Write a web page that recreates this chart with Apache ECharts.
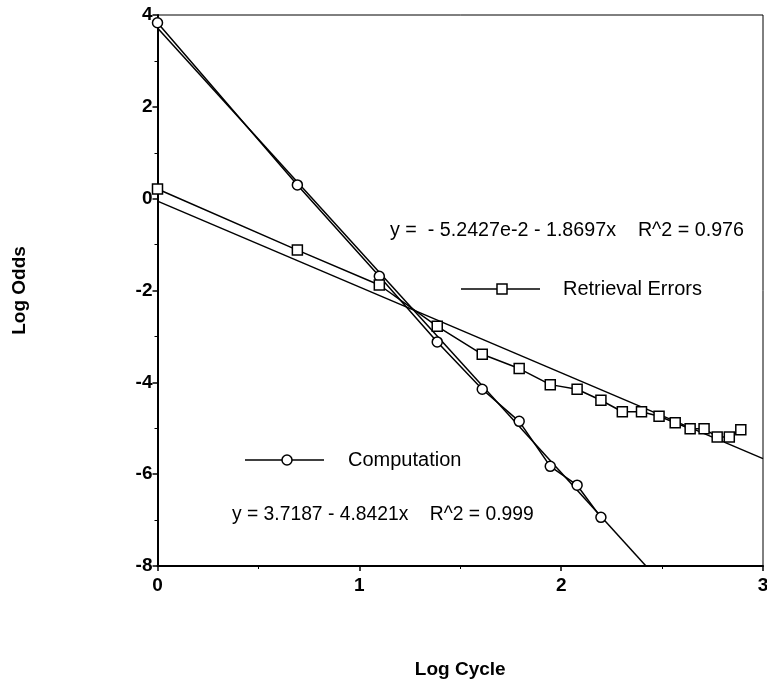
<!DOCTYPE html>
<html>
<head>
<meta charset="utf-8">
<script src="https://cdn.jsdelivr.net/npm/echarts@6/dist/echarts.min.js"></script>
<style>
html,body{margin:0;padding:0;background:#fff;overflow:hidden;}
#c{width:767px;height:682px;}
</style>
</head>
<body>
<div id="c"></div>
<script>
// ---- data ----
var compX = [0, 0.693, 1.099, 1.386, 1.609, 1.792, 1.946, 2.079, 2.197];
var compY = [3.83, 0.30, -1.69, -3.12, -4.15, -4.85, -5.83, -6.24, -6.94];
var retrX = [0, 0.693, 1.099, 1.386, 1.609, 1.792, 1.946, 2.079, 2.197, 2.303, 2.398, 2.485, 2.565, 2.639, 2.708, 2.773, 2.833, 2.890];
var retrY = [0.21, -1.12, -1.88, -2.78, -3.39, -3.70, -4.05, -4.15, -4.39, -4.64, -4.64, -4.74, -4.88, -5.01, -5.01, -5.19, -5.19, -5.03];
var compFit = [3.7187, -4.8421];   // intercept, slope
var retrFit = [-0.052427, -1.8697];
var xTicks = [0, 1, 2, 3];
var yTicks = [-8, -6, -4, -2, 0, 2, 4];
var seriesNames = ['Computation', 'Retrieval Errors'];
var eqTexts = ['y = 3.7187 - 4.8421x    R^2 = 0.999', 'y =  - 5.2427e-2 - 1.8697x    R^2 = 0.976'];

function zip(xs, ys){ return xs.map(function(x,i){return [x, ys[i]];}); }
var yMin = yTicks[0], yMax = yTicks[yTicks.length-1];
var xMin = xTicks[0], xMax = xTicks[xTicks.length-1];
function fitLine(c){
  var x0 = xMin, y0 = c[0] + c[1]*x0;
  var x1 = xMax, y1 = c[0] + c[1]*x1;
  if (y1 < yMin) { x1 = (yMin - c[0]) / c[1]; y1 = yMin; }
  return [[x0, y0], [x1, y1]];
}

var FONT = 'Liberation Sans, Arial, Helvetica, sans-serif';
var chart = echarts.init(document.getElementById('c'), null, {renderer:'canvas'});
var lineStyle = {color:'#000', width:1.5};
chart.setOption({
  animation:false,
  backgroundColor:'#fff',
  grid:{left:157.5, right:4, top:15, bottom:116, show:true, borderColor:'#000', borderWidth:1,
        backgroundColor:'transparent', containLabel:false, outerBoundsMode:'none'},
  xAxis:{
    type:'value', min:xMin, max:xMax, interval:1,
    name:'Log Cycle', nameLocation:'middle', nameGap:94,
    nameTextStyle:{fontFamily:FONT, fontWeight:'bold', fontSize:19, color:'#000'},
    axisLine:{onZero:false, lineStyle:{color:'#000', width:2}},
    axisTick:{show:true, length:5, lineStyle:{color:'#000', width:1.5}},
    minorTick:{show:true, splitNumber:2, length:3, lineStyle:{color:'#000', width:1}},
    splitLine:{show:false},
    axisLabel:{fontFamily:FONT, fontWeight:'bold', fontSize:19, color:'#000', margin:10}
  },
  yAxis:{
    type:'value', min:yMin, max:yMax, interval:2,
    name:'Log Odds', nameLocation:'middle', nameGap:128, nameRotate:90,
    nameTextStyle:{fontFamily:FONT, fontWeight:'bold', fontSize:19, color:'#000'},
    axisLine:{onZero:false, lineStyle:{color:'#000', width:2}},
    axisTick:{show:true, length:5, lineStyle:{color:'#000', width:1.5}},
    minorTick:{show:true, splitNumber:2, length:3, lineStyle:{color:'#000', width:1}},
    splitLine:{show:false},
    axisLabel:{fontFamily:FONT, fontWeight:'bold', fontSize:19, color:'#000', margin:5}
  },
  series:[
    {type:'line', name:'compFit', data:fitLine(compFit), showSymbol:false, lineStyle:lineStyle, z:1, silent:true},
    {type:'line', name:'retrFit', data:fitLine(retrFit), showSymbol:false, lineStyle:lineStyle, z:1, silent:true},
    {type:'line', name:seriesNames[0], data:zip(compX, compY), symbol:'circle', symbolSize:10,
      itemStyle:{color:'#fff', borderColor:'#000', borderWidth:1.5}, lineStyle:lineStyle, z:3},
    {type:'line', name:seriesNames[1], data:zip(retrX, retrY), symbol:'rect', symbolSize:10,
      itemStyle:{color:'#fff', borderColor:'#000', borderWidth:1.5}, lineStyle:lineStyle, z:3}
  ],
  graphic:[
    {type:'line', shape:{x1:461, y1:289, x2:540, y2:289}, style:{stroke:'#000', lineWidth:1.5}},
    {type:'rect', shape:{x:497, y:284, width:10, height:10}, style:{fill:'#fff', stroke:'#000', lineWidth:1.5}},
    {type:'text', x:563, y:289, style:{text:seriesNames[1], font:'20px ' + FONT, fill:'#000', textVerticalAlign:'middle'}},
    {type:'line', shape:{x1:245, y1:460, x2:324, y2:460}, style:{stroke:'#000', lineWidth:1.5}},
    {type:'circle', shape:{cx:287, cy:460, r:5}, style:{fill:'#fff', stroke:'#000', lineWidth:1.5}},
    {type:'text', x:348, y:460, style:{text:seriesNames[0], font:'20px ' + FONT, fill:'#000', textVerticalAlign:'middle'}},
    {type:'text', x:390, y:231, style:{text:eqTexts[1], font:'19.7px ' + FONT, fill:'#000', textVerticalAlign:'middle'}},
    {type:'text', x:232, y:515, style:{text:eqTexts[0], font:'19.3px ' + FONT, fill:'#000', textVerticalAlign:'middle'}}
  ]
});
</script>
</body>
</html>
